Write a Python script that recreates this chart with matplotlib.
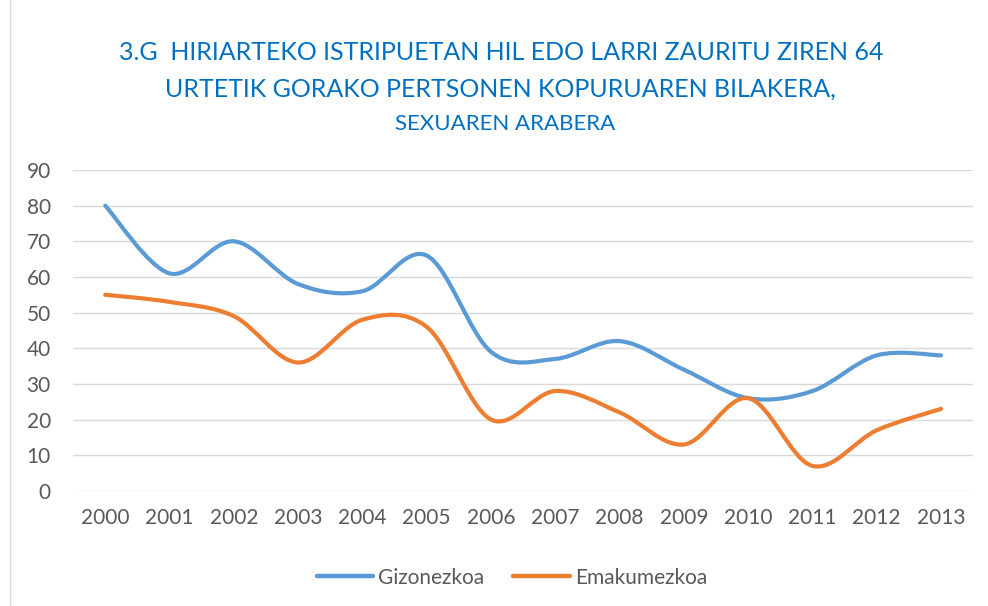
import matplotlib
matplotlib.use("Agg")
import matplotlib.pyplot as plt
from matplotlib.path import Path
from matplotlib.patches import PathPatch
from matplotlib.lines import Line2D

urteak = ["2000", "2001", "2002", "2003", "2004", "2005", "2006",
          "2007", "2008", "2009", "2010", "2011", "2012", "2013"]
gizonezkoa = [80, 61, 70, 58, 56, 66, 39, 37, 42, 34, 26, 28, 38, 38]
emakumezkoa = [55, 53, 49, 36, 48, 46, 20, 28, 22, 13, 26, 7, 17, 23]

urdina = "#5B9BD5"
laranja = "#ED7D31"
grisa = "#595959"

plt.rcParams["font.family"] = ["Lato", "DejaVu Sans"]


# Excel-en "smoothed line" antzekoa: Bezier kurbak Path bidez
def leun_bidea(ys):
    xs = list(range(len(ys)))
    n = len(ys)
    verts = [(xs[0], ys[0])]
    codes = [Path.MOVETO]
    for i in range(n - 1):
        a = max(i - 1, 0)
        d = min(i + 2, n - 1)
        c1 = (xs[i] + (xs[i + 1] - xs[a]) / 6, ys[i] + (ys[i + 1] - ys[a]) / 6)
        c2 = (xs[i + 1] - (xs[d] - xs[i]) / 6, ys[i + 1] - (ys[d] - ys[i]) / 6)
        verts += [c1, c2, (xs[i + 1], ys[i + 1])]
        codes += [Path.CURVE4] * 3
    return Path(verts, codes)


fig = plt.figure(figsize=(9.88, 6.06), dpi=100)
ax = fig.add_axes([0.074, 0.19, 0.911, 0.5295])

for datuak, kolorea in [(gizonezkoa, urdina), (emakumezkoa, laranja)]:
    ax.add_patch(PathPatch(leun_bidea(datuak), facecolor="none", edgecolor=kolorea,
                           linewidth=3, capstyle="round", joinstyle="round", zorder=3))

ax.set_xlim(-0.5, len(urteak) - 0.5)
ax.set_ylim(0, 90)
ax.set_yticks(range(0, 91, 10))
ax.set_xticks(range(len(urteak)))
ax.set_xticklabels(urteak)
ax.tick_params(length=0, labelsize=15, colors=grisa)
ax.tick_params(axis="x", pad=12)
ax.tick_params(axis="y", pad=16)
ax.yaxis.grid(True, color="#D9D9D9", linewidth=1)
for s in ax.spines.values():
    s.set_visible(False)

# Titulua
fig.text(0.507, 0.914, "3.G  HIRIARTEKO ISTRIPUETAN HIL EDO LARRI ZAURITU ZIREN 64",
         ha="center", va="center", fontsize=18, color="#0070C0")
fig.text(0.507, 0.853, "URTETIK GORAKO PERTSONEN KOPURUAREN BILAKERA,",
         ha="center", va="center", fontsize=18, color="#0070C0")
fig.text(0.511, 0.795, "SEXUAREN ARABERA",
         ha="center", va="center", fontsize=16, color="#0070C0")

# Legenda
eskuak = [Line2D([], [], color=urdina, linewidth=3.2, solid_capstyle="round"),
          Line2D([], [], color=laranja, linewidth=3.2, solid_capstyle="round")]
fig.legend(eskuak, ["Gizonezkoa", "Emakumezkoa"], loc="center",
           bbox_to_anchor=(0.518, 0.047), ncol=2, frameon=False, fontsize=15,
           labelcolor=grisa, handlelength=2.7, handletextpad=0.25, columnspacing=1.4)

# Grafikoaren ertza
fig.add_artist(plt.Rectangle((0.01, -0.01), 1.2, 1.2, transform=fig.transFigure,
                             fill=False, edgecolor="#D9D9D9", linewidth=1))

fig.savefig("out.png", dpi=100)
